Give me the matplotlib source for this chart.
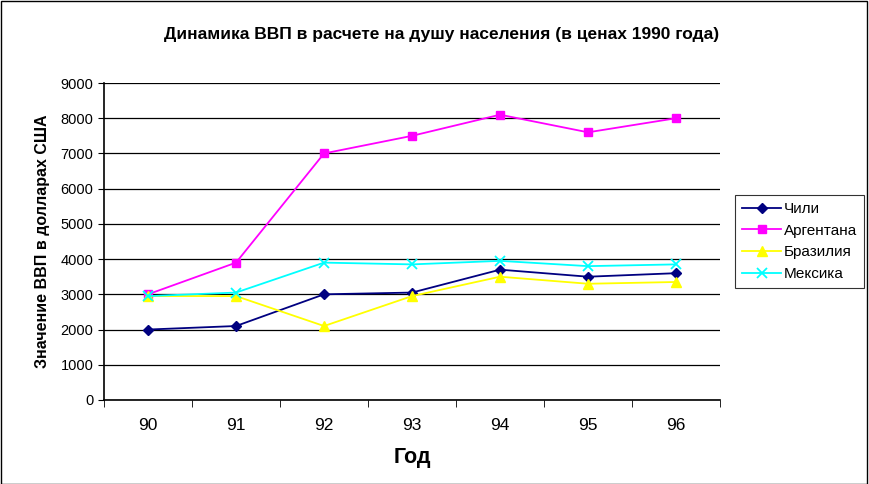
import numpy as np
import matplotlib.pyplot as plt
from matplotlib.patches import Rectangle

plt.rcParams['font.family'] = ['Liberation Sans', 'DejaVu Sans']

years = ['90', '91', '92', '93', '94', '95', '96']
chile = [2000, 2100, 3000, 3050, 3700, 3500, 3600]
argentina = [3000, 3900, 7000, 7500, 8100, 7600, 8000]
brazil = [2950, 2950, 2100, 2950, 3500, 3300, 3350]
mexico = [2950, 3050, 3900, 3850, 3950, 3800, 3850]

fig = plt.figure(figsize=(8.69, 4.84), dpi=100)
fig.patches.append(Rectangle((0.001, 0.001), 0.997, 0.997, transform=fig.transFigure,
                             fill=False, edgecolor='black', linewidth=1))
ax = fig.add_axes([0.1197, 0.1736, 0.7089, 0.6549])

x = np.arange(len(years))
ax.plot(x, chile, color='#000080', marker='D', markersize=5, linewidth=1.3, label='Чили')
ax.plot(x, argentina, color='#FF00FF', marker='s', markersize=6, linewidth=1.3, label='Аргентана')
ax.plot(x, brazil, color='#FFFF00', marker='^', markersize=7, linewidth=1.3, label='Бразилия')
ax.plot(x, mexico, color='#00FFFF', marker='x', markersize=7, markeredgewidth=1.3,
        linewidth=1.3, label='Мексика')

ax.set_xlim(-0.5, 6.5)
ax.set_ylim(0, 9000)
ax.set_yticks(np.arange(0, 9001, 1000))
ax.yaxis.grid(True, color='black', linewidth=0.9)
ax.set_axisbelow(True)
ax.set_xticks(x)
ax.set_xticklabels(years, fontsize=12.5)
ax.tick_params(axis='x', length=0, pad=13)
ax.set_xticks(np.arange(-0.5, 7, 1), minor=True)
ax.tick_params(axis='x', which='minor', length=5, direction='out')
ax.tick_params(axis='y', labelsize=10.5, length=4)
for s in ['top', 'right']:
    ax.spines[s].set_visible(False)
ax.spines['left'].set_linewidth(1.2)
ax.spines['bottom'].set_linewidth(1.2)

ax.set_xlabel('Год', fontsize=15.5, fontweight='bold', labelpad=10)
ax.set_ylabel('Значение ВВП в долларах США', fontsize=11.5, fontweight='bold', labelpad=8)
fig.text(0.508, 0.928, 'Динамика ВВП в расчете на душу населения (в ценах 1990 года)',
         ha='center', va='center', fontsize=12.5, fontweight='bold')

leg = ax.legend(loc='center left', bbox_to_anchor=(1.024, 0.5), frameon=True, fancybox=False,
                edgecolor='black', fontsize=11, handlelength=2.6, borderaxespad=0,
                labelspacing=0.5, handletextpad=0.15, borderpad=0.45)
leg.get_frame().set_linewidth(0.8)

fig.savefig('out.png', dpi=100)
